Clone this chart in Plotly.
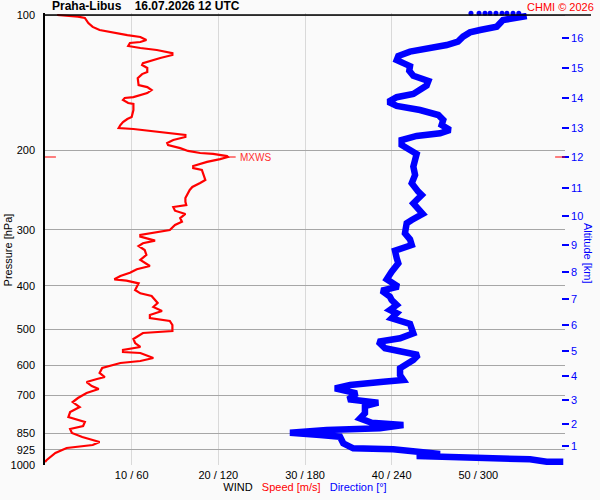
import math

import plotly.graph_objects as go

# wind speed profile (red), pressure in hPa / speed in m/s
speed_hpa = [100.0, 100.8, 101.5, 104.2, 106.3, 108.0, 110.8, 111.9, 113.6, 114.8, 115.4, 117.2,
             118.4, 119.6, 121.5, 122.7, 124.6, 126.5, 127.9, 129.2, 131.1, 133.9, 135.3, 138.1,
             143.1, 144.6, 146.8, 149.1, 152.2, 152.9, 154.5, 156.9, 157.7, 162.6, 168.5, 170.3,
             172.9, 175.6, 178.3, 179.2, 182.9, 184.8, 186.7, 189.6, 192.5, 194.5, 197.6, 200.5,
             202.6, 203.6, 205.8, 206.8, 209.0, 212.1, 216.6, 218.8, 221.0, 232.6, 236.2, 241.1,
             244.8, 249.9, 255.1, 260.0, 264.4, 267.1, 272.2, 276.8, 282.6, 288.0, 292.9, 300.5,
             303.6, 308.3, 310.9, 317.3, 321.6, 326.1, 332.8, 341.4, 350.3, 361.2, 367.3, 373.8,
             380.2, 386.7, 389.4, 394.7, 408.4, 415.4, 421.2, 429.9, 436.5, 445.5, 454.8, 464.2,
             471.4, 478.6, 488.5, 503.8, 508.9, 524.8, 535.7, 546.7, 555.2, 560.9, 563.8, 578.4,
             587.4, 593.4, 602.6, 608.8, 624.5, 637.5, 644.0, 654.0, 667.5, 677.9, 691.9, 709.8,
             724.5, 743.3, 762.6, 782.3, 802.5, 819.1, 831.7, 848.9, 866.4, 888.9, 902.7, 916.7,
             940.5, 960.0, 974.7, 984.7]
speed_ms = [1.4, 3.8, 4.6, 5.0, 5.5, 6.3, 9.5, 11.0, 11.7, 11.0, 9.8, 9.6,
            11.0, 12.9, 14.7, 14.7, 13.3, 12.1, 11.3, 11.2, 11.8, 11.8, 11.2, 10.7,
            10.8, 11.8, 12.3, 11.8, 10.2, 9.2, 9.0, 9.6, 10.2, 10.2, 10.0, 9.5,
            9.0, 8.7, 8.5, 10.2, 14.1, 16.2, 16.2, 14.8, 14.1, 14.2, 15.6, 16.5,
            17.9, 19.4, 21.0, 21.1, 20.2, 18.7, 17.1, 17.1, 18.1, 18.5, 17.9, 17.0,
            16.7, 16.4, 16.2, 16.2, 16.3, 14.8, 15.0, 16.2, 15.6, 15.8, 15.0, 14.4,
            12.9, 11.0, 11.0, 12.7, 11.3, 10.8, 11.5, 11.7, 11.0, 12.1, 10.6, 9.8,
            8.7, 8.0, 9.4, 10.8, 10.4, 11.0, 12.3, 12.7, 13.0, 12.5, 13.5, 12.1,
            12.1, 14.4, 14.7, 14.7, 11.3, 10.2, 10.4, 11.0, 9.0, 9.0, 11.0, 12.5,
            11.0, 8.7, 7.5, 6.6, 6.3, 6.9, 6.0, 4.8, 5.4, 6.2, 4.8, 3.8,
            3.2, 4.0, 2.9, 2.7, 4.6, 4.4, 2.9, 3.1, 4.3, 6.3, 5.5, 2.5,
            1.2, 0.6, 0.2, 0.0]

# wind direction profile (blue), pressure in hPa / direction in degrees
dir_hpa = [100.5, 101.7, 102.6, 104.3, 106.2, 108.0, 109.3, 111.7, 114.6, 116.6, 118.6, 120.6,
           123.3, 125.9, 127.9, 129.9, 133.0, 136.5, 140.2, 143.5, 149.8, 152.3, 155.9, 159.3,
           162.6, 166.8, 171.1, 175.6, 180.1, 183.2, 185.7, 189.6, 194.5, 198.8, 203.6, 210.0,
           217.3, 226.7, 236.5, 246.9, 251.2, 262.1, 271.2, 276.8, 285.5, 290.3, 305.5, 315.1,
           324.4, 334.0, 347.2, 356.2, 371.9, 386.7, 401.6, 409.9, 422.7, 429.9, 441.0, 452.4,
           460.1, 472.0, 486.0, 509.7, 523.0, 532.1, 550.4, 562.9, 569.6, 584.4, 594.2, 609.6,
           631.0, 647.4, 653.0, 664.1, 675.5, 683.8, 692.9, 714.5, 720.8, 727.0, 739.5, 767.4,
           787.6, 805.3, 814.9, 828.8, 836.0, 847.6, 857.7, 865.2, 894.9, 918.1, 922.7, 934.2,
           945.2, 955.0, 957.9, 961.1, 971.4, 983.2, 983.2]
dir_deg = [333.5, 324.0, 317.1, 315.0, 312.7, 301.2, 294.2, 289.4, 285.9, 278.1, 264.2, 252.7,
           244.6, 243.5, 248.1, 252.7, 252.2, 255.0, 265.4, 264.2, 255.0, 243.5, 237.7, 243.5,
           259.6, 272.3, 275.7, 274.6, 280.4, 273.5, 257.3, 246.9, 246.9, 252.7, 257.3, 256.2,
           255.0, 256.2, 253.9, 258.4, 260.8, 255.0, 259.6, 261.5, 253.9, 250.4, 249.2, 252.7,
           253.9, 242.3, 243.5, 244.6, 240.0, 236.6, 244.6, 233.1, 238.8, 240.0, 243.5, 238.8,
           243.5, 240.0, 252.7, 255.0, 245.8, 230.7, 235.4, 250.4, 258.4, 255.0, 250.4, 245.8,
           245.8, 248.1, 234.2, 211.2, 200.8, 211.2, 215.8, 210.0, 220.4, 230.7, 221.5, 221.5,
           218.1, 226.2, 248.1, 231.9, 195.0, 169.6, 190.4, 204.2, 206.5, 213.4, 241.1, 264.2,
           273.5, 257.3, 275.7, 298.9, 335.8, 347.3, 358.8]

# sparse direction points just above the 100 hPa line
top_dots_deg = [294.9, 300.5, 304.6, 308.1, 312.2, 316.4, 319.8, 324.0, 328.0]
top_dots_hpa = [99.1] * len(top_dots_deg)

pressure_ticks = [100, 200, 300, 400, 500, 600, 700, 850, 925, 1000]
speed_ticks = [10, 20, 30, 40, 50, 60]
speed_labels = ["10 / 60", "20 / 120", "30 / 180", "40 / 240", "50 / 300", ""]
altitude_km = ["1", "2", "3", "4", "5", "6", "7", "8", "9", "10", "11", "12", "13", "14", "15", "16"]
altitude_hpa = [907.4, 810.6, 717.1, 634.3, 557.9, 488.6, 427.7, 372.5, 324.4, 279.7,
                242.0, 207.2, 178.0, 153.1, 131.3, 112.3]

mxws_speed = 21.1
mxws_hpa = 206.8

BG = "#fafafa"
FONT = "Liberation Sans, Arial, sans-serif"

# 450 px per decade, plus 2 px headroom above 100 hPa for the top dots
Y_RANGE = [3, 2 - 2 / 450]

fig = go.Figure()

fig.add_trace(go.Scatter(
    x=dir_deg, y=dir_hpa, xaxis="x2", yaxis="y", mode="lines",
    line=dict(color="#0000ff", width=6.5), hoverinfo="skip",
))
fig.add_trace(go.Scatter(
    x=speed_ms, y=speed_hpa, xaxis="x", yaxis="y", mode="lines",
    line=dict(color="#ff0000", width=2.2), hoverinfo="skip",
))
fig.add_trace(go.Scatter(
    x=top_dots_deg, y=top_dots_hpa, xaxis="x2", yaxis="y", mode="markers",
    marker=dict(color="#0000ff", size=5), cliponaxis=False, hoverinfo="skip",
))
# keeps the altitude axis alive
fig.add_trace(go.Scatter(x=[None], y=[None], xaxis="x", yaxis="y2", showlegend=False))

fig.update_layout(
    width=600, height=500, autosize=False,
    margin=dict(l=45, r=35, t=13, b=35),
    paper_bgcolor=BG, plot_bgcolor=BG,
    showlegend=False,
    font=dict(family=FONT, size=11, color="#000000"),
    xaxis=dict(
        range=[0, 60], tickvals=speed_ticks, ticktext=speed_labels,
        showgrid=True, gridcolor="#d9d9d9", gridwidth=1,
        showline=False, zeroline=False, ticks="", ticklabelstandoff=2,
        automargin=False,
        tickfont=dict(size=11, color="#000000"),
        title=dict(
            text="WIND   <span style='color:#ff0000'>Speed [m/s]</span>   "
                 "<span style='color:#0000ff'>Direction [°]</span>",
            font=dict(size=11), standoff=2,
        ),
    ),
    xaxis2=dict(range=[0, 360], overlaying="x", visible=False),
    yaxis=dict(
        type="log", range=Y_RANGE, tickvals=pressure_ticks,
        ticktext=[str(p) for p in pressure_ticks],
        showgrid=True, gridcolor="#a6a6a6", gridwidth=1,
        showline=True, linecolor="#000000", linewidth=1.5,
        zeroline=False, ticks="", ticklabelstandoff=6, automargin=False,
        tickfont=dict(size=11, color="#000000"),
    ),
    yaxis2=dict(
        type="log", range=Y_RANGE, overlaying="y", side="right",
        anchor="free", position=0.992, automargin=False,
        tickvals=altitude_hpa, ticktext=altitude_km,
        showgrid=False, showline=False, zeroline=False,
        ticks="outside", ticklen=7, tickwidth=1.5, tickcolor="#0000ff",
        tickfont=dict(size=11, color="#0000ff"),
    ),
)

# top border line at 100 hPa
fig.add_shape(type="line", xref="paper", yref="y", x0=0, x1=1.05, y0=100, y1=100,
              line=dict(color="#000000", width=1.5))

# max wind speed markers
fig.add_shape(type="line", xref="paper", yref="y", x0=0, x1=0.021, y0=mxws_hpa, y1=mxws_hpa,
              line=dict(color="#ff0000", width=1))
fig.add_shape(type="line", xref="paper", yref="y", x0=0.981, x1=1.0, y0=mxws_hpa, y1=mxws_hpa,
              line=dict(color="#ff0000", width=1))
fig.add_shape(type="line", xref="x", yref="y", x0=mxws_speed, x1=mxws_speed + 0.9,
              y0=mxws_hpa, y1=mxws_hpa, line=dict(color="#ff0000", width=1))
fig.add_annotation(x=mxws_speed + 1.2, y=math.log10(mxws_hpa), xref="x", yref="y",
                   text="MXWS", showarrow=False, xanchor="left",
                   font=dict(size=10, color="#ff3030"))

fig.add_annotation(x=0.01, y=1.0, xref="paper", yref="paper", yanchor="bottom", xanchor="left",
                   yshift=-2,
                   text="<b>Praha-Libus    16.07.2026 12 UTC</b>", showarrow=False,
                   font=dict(size=12, color="#000000"))
fig.add_annotation(x=1.06, y=1.0, xref="paper", yref="paper", yanchor="bottom", xanchor="right",
                   yshift=-2,
                   text="CHMI © 2026", showarrow=False, font=dict(size=11, color="#ff0000"))
fig.add_annotation(x=-0.071, y=0.475, xref="paper", yref="paper", textangle=-90,
                   xanchor="center", yanchor="middle",
                   text="Pressure [hPa]", showarrow=False, font=dict(size=11, color="#000000"))
fig.add_annotation(x=1.044, y=0.467, xref="paper", yref="paper", textangle=90,
                   xanchor="center", yanchor="middle",
                   text="Altitude [km]", showarrow=False, font=dict(size=11, color="#0000ff"))

fig.write_html("out.html", config={"displayModeBar": False},
               post_script="document.body.style.margin='0';")
